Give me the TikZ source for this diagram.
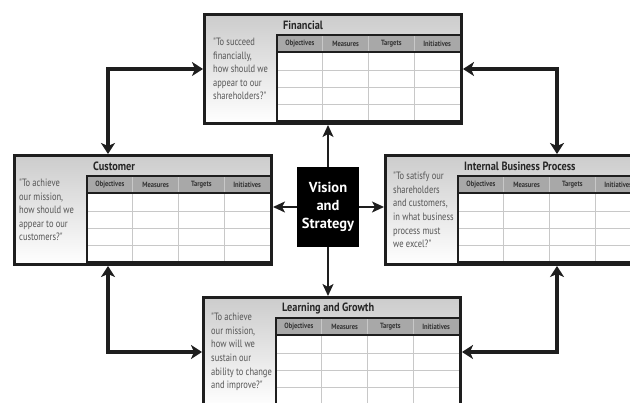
\documentclass[tikz,border=0pt]{standalone}
\usepackage{fontspec}
\setmainfont{PT Sans}
\newfontfamily\condfont{PT Sans}[FakeStretch=0.86]
\newfontfamily\narrowfont{PT Sans}[FakeStretch=0.8]
\usetikzlibrary{arrows.meta}

\definecolor{qgray}{HTML}{555555}
\definecolor{hdrgray}{HTML}{A8A8A8}
\definecolor{gridgray}{HTML}{C8C8C8}
\definecolor{inkblack}{HTML}{1E1E1E}

\tikzset{
  panelbox/.style={draw=inkblack, line width=3pt, top color=black!20, bottom color=white,
    minimum width=257pt, minimum height=109pt, inner sep=0pt, anchor=north west},
  gridline/.style={draw=gridgray, line width=0.8pt},
  tableline/.style={draw=inkblack, line width=1.6pt},
  colhead/.style={font=\condfont\bfseries\fontsize{7.6}{8}\selectfont, text=black!80, inner sep=0pt},
  paneltitle/.style={font=\condfont\bfseries\fontsize{12}{13}\selectfont, text=black!85, anchor=west, inner sep=0pt},
  question/.style={font=\narrowfont\fontsize{10.6}{13.6}\selectfont, text=qgray, align=left, anchor=west, inner sep=0pt},
  vision/.style={fill=black, text=white, font=\bfseries\fontsize{14.5}{18}\selectfont, align=center,
    minimum width=62pt, minimum height=80pt, inner sep=0pt},
  bigarrow/.style={line width=4pt, draw=inkblack,
    {Stealth[length=11pt,width=14pt,inset=3pt]}-{Stealth[length=11pt,width=14pt,inset=3pt]}},
  thinarrow/.style={line width=1.4pt, draw=inkblack, -{Stealth[length=12pt,width=11pt,inset=3pt]}}
}

% #1 name, #2 #3 top-left corner, #4 title, #5 question, #6 question indent
\newcommand\bscpanel[6]{%
  \node[panelbox] (#1) at (#2,#3) {};
  \fill[hdrgray] ({#2+74},{#3+22}) rectangle ({#2+257},{#3+39});
  \fill[white] ({#2+74},{#3+39}) rectangle ({#2+257},{#3+108});
  \foreach \r in {57,74,91} \draw[gridline] ({#2+74},{#3+\r}) -- ({#2+257},{#3+\r});
  \foreach \c in {1,2,3} \draw[gridline] ({#2+74+\c*45.75},{#3+22}) -- ({#2+74+\c*45.75},{#3+108});
  \draw[tableline] ({#2+257},{#3+22}) -- ({#2+74},{#3+22}) -- ({#2+74},{#3+108}) -- ({#2+257},{#3+108});
  \draw[tableline] ({#2+74},{#3+39}) -- ({#2+257},{#3+39});
  \foreach \lab [count=\i] in {Objectives,Measures,Targets,Initiatives}
    \node[colhead] at ({#2+74+(\i-0.5)*45.75},{#3+30.5}) {\lab};
  \node[paneltitle] (#1-title) at ({#2+80},{#3+12}) {#4};
  \node[question] (#1-q) at ({#2+#6},{#3+56}) {#5};
}

\begin{document}
\begin{tikzpicture}[x=1pt,y=-1pt]
  \useasboundingbox (0,0) rectangle (630,403);
  \clip (0,0) rectangle (630,403);
  \fill[white] (0,0) rectangle (630,403);

  \bscpanel{fin}{203}{13}{Financial}
    {"To succeed\\financially,\\how should we\\appear to our\\shareholders?"}{10}
  \bscpanel{cus}{13}{154}{Customer}
    {"To achieve\\our mission,\\how should we\\appear to our\\customers?"}{6}
  \bscpanel{ibp}{384}{154}{Internal Business Process}
    {"To satisfy our\\shareholders\\and customers,\\in what business\\process must\\we excel?"}{9}
  \bscpanel{lg}{202}{296}{Learning and Growth}
    {"To achieve\\our mission,\\how will we\\sustain our\\ability to change\\and improve?"}{9}

  \node[vision] (vis) at (328,207) {Vision\\and\\Strategy};

  % links from the centre to each perspective
  \draw[thinarrow] (vis.north) -- (vis.north |- fin.south);
  \draw[thinarrow] (vis.south) -- (vis.south |- lg.north);
  \draw[thinarrow] (vis.west) -- (vis.west -| cus.east);
  \draw[thinarrow] (vis.east) -- (vis.east -| ibp.west);

  % two-way links around the ring
  \draw[bigarrow] (fin.west) -| ([xshift=95pt]cus.north west);
  \draw[bigarrow] (fin.east) -| ([xshift=173pt]ibp.north west);
  \draw[bigarrow] (lg.west) -| ([xshift=95pt]cus.south west);
  \draw[bigarrow] (lg.east) -| ([xshift=173pt]ibp.south west);
\end{tikzpicture}
\end{document}
